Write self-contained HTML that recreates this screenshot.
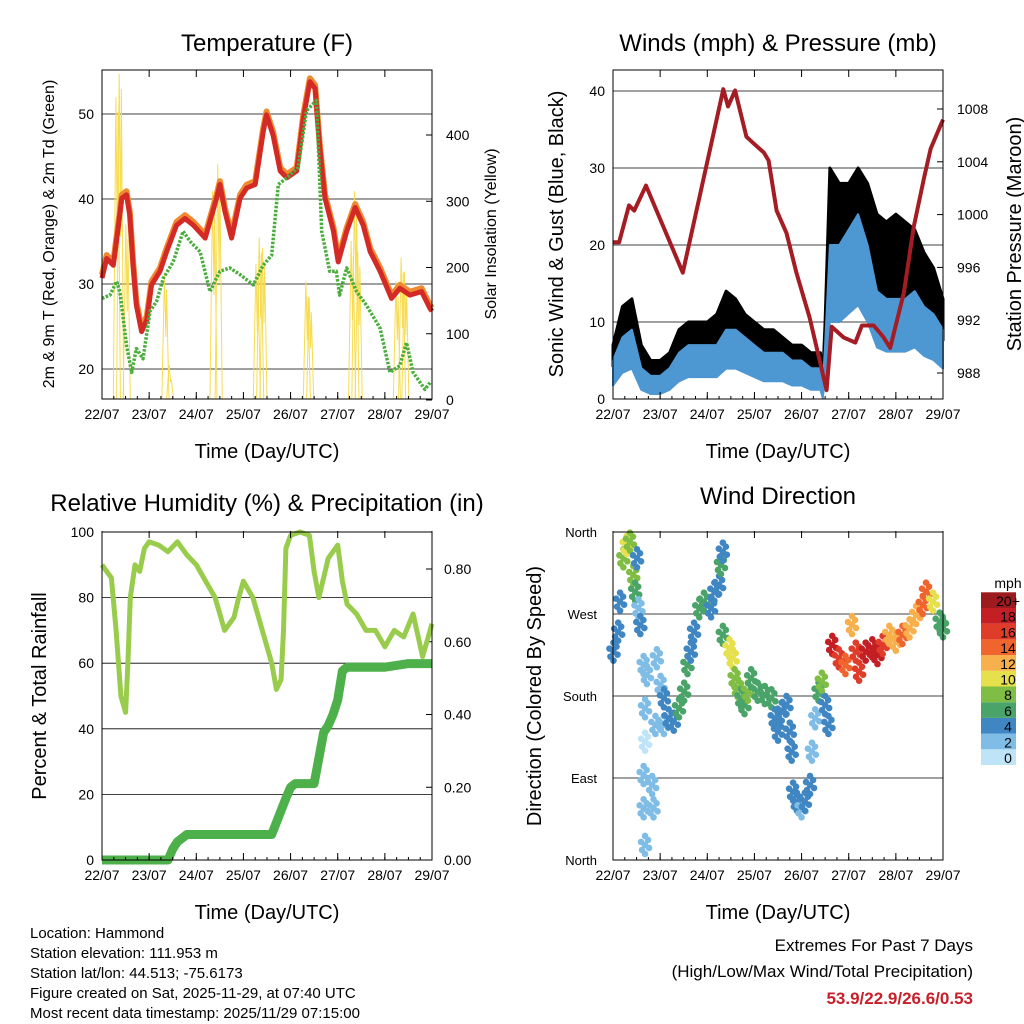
<!DOCTYPE html>
<html><head><meta charset="utf-8">
<style>
body{margin:0;background:#fff;}
svg{display:block;font-family:"Liberation Sans",sans-serif;}
</style></head>
<body>
<svg id="c" width="1024" height="1024" viewBox="0 0 1024 1024"></svg>
<script>
// ---- data ----
const dayLabels=["22/07","23/07","24/07","25/07","26/07","27/07","28/07","29/07"];
const tDays=[0,0.1,0.24,0.35,0.42,0.52,0.59,0.66,0.73,0.84,0.95,1.05,1.23,1.37,1.58,1.76,1.94,2.19,2.43,2.5,2.61,2.75,2.93,3.07,3.25,3.42,3.49,3.63,3.78,3.92,4.13,4.27,4.41,4.52,4.62,4.73,4.91,5.01,5.19,5.37,5.54,5.69,5.9,6.14,6.32,6.53,6.78,6.96,7.0];
const tempF=[30.7,33,32.2,36.9,40.1,40.5,38.1,32.2,27.5,24.4,25.8,29.9,31.5,33.8,36.9,37.7,36.9,35.4,40.1,41.7,38.5,35.4,40.1,41.3,41.7,47.9,49.9,47.5,43.3,42.5,43.3,49.5,53.8,53,46,40.1,36.2,32.6,36.2,39,36.9,33.8,31.5,28.3,29.5,28.7,29.1,27.1,26.8];
const tdDays=[0,0.17,0.31,0.38,0.52,0.63,0.73,0.87,1.02,1.16,1.3,1.51,1.72,1.87,2.08,2.29,2.5,2.71,2.93,3.21,3.42,3.6,3.74,3.92,4.16,4.34,4.55,4.66,4.83,4.97,5.04,5.19,5.4,5.61,5.9,6.11,6.32,6.46,6.6,6.85,6.96];
const dewF=[28.3,28.7,30.3,29.1,22.8,19.6,22.4,21.2,26.8,28,30.7,32.6,36.2,35,33.8,29.1,31.5,31.9,31.1,29.9,32.2,33.4,41.7,42.5,43.7,50.4,51.6,36.2,31.5,31.5,28.7,31.9,29.1,27.5,24.8,19.6,20.4,23.1,19.6,17.6,18.4];
const solarDays=[0.31,0.38,0.52,1.34,1.44,2.36,2.47,3.28,3.35,3.42,4.34,4.41,5.3,5.37,5.44,6.25,6.36,6.43];
const solarVals=[457,492,265,189,53,315,356,205,245,230,179,155,240,315,224,179,215,194];
const wDays=[0,0.2,0.4,0.6,0.8,1.0,1.2,1.4,1.6,1.8,2.0,2.2,2.4,2.6,2.8,3.0,3.2,3.4,3.6,3.8,4.0,4.2,4.4,4.45,4.5,4.6,4.8,5.0,5.2,5.4,5.6,5.8,6.0,6.2,6.4,6.6,6.8,7.0];
const windMean=[5,8,9,4,3,3,4,6,7,7,7,7,9,9,8,7,6,6,6,5,5,4,4,2,7,20,20,22,24,20,14,13,13,13,14,12,11,9];
const windGust=[7,12,13,7,5,5,6,9,10,10,10,11,14,13,11,10,9,9,8,7,7,6,6,3,10,30,28,28,30,28,24,23,24,23,22,19,17,13];
const pDays=[0,0.13,0.34,0.45,0.7,1.48,2.34,2.44,2.59,2.83,2.98,3.2,3.3,3.47,3.68,3.89,4.17,4.38,4.53,4.64,4.89,5.14,5.28,5.53,5.74,5.88,6.17,6.38,6.6,6.74,7.0];
const pressure=[997.9,997.9,1000.7,1000.3,1002.2,995.6,1009.5,1008.2,1009.4,1005.9,1005.4,1004.7,1004.1,1000.3,998.6,995.6,992.2,989,986.7,991.5,990.7,990.3,991.6,991.6,990.7,989.9,994.1,999.1,1002.8,1005,1007.2];
const rhDays=[0,0.1,0.2,0.3,0.4,0.5,0.55,0.6,0.7,0.8,0.9,1.0,1.2,1.4,1.6,1.8,2.0,2.2,2.4,2.6,2.8,2.9,3.0,3.2,3.4,3.6,3.7,3.8,3.85,3.9,4.0,4.2,4.4,4.5,4.6,4.8,5.0,5.1,5.2,5.4,5.6,5.8,6.0,6.2,6.4,6.6,6.8,7.0];
const rh=[90,88,86,70,50,45,60,80,90,88,95,97,96,94,97,93,90,85,80,70,74,80,85,80,70,60,52,55,70,95,99,100,99,88,80,92,96,85,78,75,70,70,65,70,68,75,62,72];
const prDays=[0,1.4,1.5,1.6,1.8,3.6,3.75,3.9,4.0,4.1,4.5,4.6,4.7,4.8,4.9,5.0,5.1,5.2,6.0,6.5,7.0];
const precip=[0,0,0.03,0.05,0.07,0.07,0.12,0.17,0.2,0.21,0.21,0.28,0.35,0.37,0.4,0.44,0.52,0.53,0.53,0.54,0.54];
const dDays=[0.01,0.11,0.15,0.22,0.29,0.36,0.43,0.51,0.47,0.54,0.58,0.65,0.72,0.68,0.68,0.65,0.65,0.68,0.83,0.86,0.9,0.93,1.01,1.08,1.08,1.18,1.29,1.4,1.51,1.58,1.65,1.72,1.83,1.93,2.08,2.15,2.25,2.29,2.33,2.33,2.47,2.54,2.58,2.65,2.72,2.79,2.86,2.93,3.07,3.22,3.36,3.43,3.5,3.58,3.68,3.75,3.79,3.82,3.9,4.0,4.07,4.18,4.22,4.29,4.36,4.43,4.5,4.57,4.65,4.79,4.93,5.07,5.15,5.22,5.36,5.5,5.61,5.72,5.86,6.0,6.14,6.29,6.43,6.57,6.64,6.79,6.93,7.0];
const dirDeg=[228.7,250.6,283.5,331.1,345.7,349.4,312.8,331.1,294.5,276.2,257.9,214,203,166.5,129.9,93.3,56.7,16.5,82.3,56.7,148.2,221.4,192.1,177.5,148.2,155.5,151.8,166.5,184.7,214,228.7,250.6,276.2,283.5,276.2,294.5,301.8,323.8,338.4,247,232.3,221.4,199.4,188.4,177.5,170.1,184.7,199.4,184.7,181.1,177.5,155.5,140.9,162.8,170.1,140.9,118.9,75,64,56.7,64,82.3,118.9,155.5,184.7,195.7,170.1,148.2,236,221.4,214,257.9,228.7,206.7,228.7,232.3,225,236,247,239.6,247,254.3,268.9,279.9,294.5,283.5,261.6,254.3];
const dirSpd=[4,4,4,8,10,8,8,4,6,2,4,2,2,1,0,1,2,1,2,2,1,2,2,4,2,4,4,6,6,6,4,4,6,6,4,4,4,5,4,6,10,10,8,8,6,6,8,6,6,6,6,4,4,4,4,4,3,4,3,2,3,4,2,2,6,8,4,4,18,16,14,12,16,16,18,18,18,16,12,12,14,12,12,14,14,10,6,6];
const cbLabels=["0","2","4","6","8","10","12","14","16","18","20+"];
const cbColors=["#bfe4f8","#80bde6","#3f86c2","#4aa46a","#7fbd44","#e5e04c","#f8b04c","#f0652e","#e03c2a","#c31f25","#9b1b1e"];

// ---- helpers ----
const svg=document.getElementById('c');
const NS="http://www.w3.org/2000/svg";
function mk(tag,attrs,parent){const e=document.createElementNS(NS,tag);for(const k in attrs)e.setAttribute(k,attrs[k]);(parent||svg).appendChild(e);return e;}
function txt(x,y,s,size,anchor,extra){const t=mk('text',Object.assign({x:x,y:y,'font-size':size,'text-anchor':anchor||'middle',fill:'#000'},extra||{}));t.textContent=s;return t;}
function xS(x0,x1){return d=>x0+d*(x1-x0)/7;}
function lin(v0,p0,v1,p1){return v=>p0+(v-v0)*(p1-p0)/(v1-v0);}
function pathOf(xs,ys,fx,fy){return xs.map((d,i)=>(i?'L':'M')+fx(d).toFixed(1)+','+fy(ys[i]).toFixed(1)).join('');}
function frame(name){
  const g=mk('g',{});
  
  
  return g;
}
function xAxis(g,x0,x1,yb){
  const fx=xS(x0,x1);
  dayLabels.forEach((l,i)=>{
    mk('line',{x1:fx(i),x2:fx(i),y1:yb,y2:yb-7,stroke:'#000'},g);
    mk('line',{x1:fx(i),x2:fx(i),y1:yb-329,y2:yb-322,stroke:'#000'},g);
    const t=txt(fx(i),yb+20,l,14,'middle');
    
    
  });
  for(let i=0;i<28;i++){const x=x0+i*(x1-x0)/28;mk('line',{x1:x,x2:x,y1:yb,y2:yb-3,stroke:'#000'},g);}
  const t=txt((x0+x1)/2,yb+59,'Time (Day/UTC)',20,'middle');
  
  
}
function box(g,x0,y0,x1,y1){mk('rect',{x:x0,y:y0,width:x1-x0,height:y1-y0,fill:'none',stroke:'#000','stroke-width':1},g);}

// ===== Panel 1 Temperature =====
(function(){
  const x0=102,x1=432,y0=70,y1=399;
  const g=frame('temperature-panel');
  const fx=xS(x0,x1), fy=lin(20,369,50,114), fs=lin(0,400,400,135);
  [20,30,40,50].forEach(v=>{mk('line',{x1:x0,x2:x1,y1:fy(v),y2:fy(v),stroke:'#000','stroke-width':0.8},g);
    const t=txt(x0-8,fy(v)+5,String(v),14,'end');});
  [0,100,200,300,400].forEach(v=>{mk('line',{x1:x1,x2:x1-6,y1:fs(v),y2:fs(v),stroke:'#000'},g);
    const t=txt(x1+14,fs(v)+5,String(v),14,'start');});
  const clip=mk('clipPath',{id:'clip1'});mk('rect',{x:x0,y:y0,width:x1-x0,height:y1-y0},clip);
  const sg=mk('g',{'clip-path':'url(#clip1)'},g);
  solarDays.forEach((d,i)=>{
    const top=fs(solarVals[i]);
    const p=mk('path',{d:`M${fx(d-0.07)},${y1}L${fx(d-0.015)},${top}L${fx(d+0.015)},${(top+y1)/2}L${fx(d+0.03)},${top+15}L${fx(d+0.08)},${y1}`,fill:'none',stroke:'#f7dc50','stroke-width':1},sg);
    
    
  });
  const or=mk('path',{d:pathOf(tDays,tempF.map(v=>v+0.4),fx,fy),fill:'none',stroke:'#f08a30','stroke-width':6,'stroke-linejoin':'round'},g);
  
  const rd=mk('path',{d:pathOf(tDays,tempF,fx,fy),fill:'none',stroke:'#d42a26','stroke-width':5,'stroke-linejoin':'round'},g);
  
  const gr=mk('path',{d:pathOf(tdDays,dewF,fx,fy),fill:'none',stroke:'#4aae3c','stroke-width':3.5,'stroke-dasharray':'2.5 1.5','stroke-linejoin':'round'},g);
  
  box(g,x0,y0,x1,y1);
  xAxis(g,x0,x1,y1);
  const t=txt(267,51,'Temperature (F)',24,'middle');
  const a=txt(0,0,'2m & 9m T (Red, Orange) & 2m Td (Green)',16,'middle',{transform:'translate(54,234) rotate(-90)'});
  const b=txt(0,0,'Solar Insolation (Yellow)',16,'middle',{transform:'translate(496,234) rotate(-90)'});
})();

// ===== Panel 2 Winds =====
(function(){
  const x0=613,x1=943,y0=70,y1=399;
  const g=frame('winds-panel');
  const fx=xS(x0,x1), fy=lin(0,399,40,91), fp=lin(988,373,1008,109);
  [10,20,30,40].forEach(v=>mk('line',{x1:x0,x2:x1,y1:fy(v),y2:fy(v),stroke:'#000','stroke-width':0.8},g));
  [0,10,20,30,40].forEach(v=>{const t=txt(x0-8,fy(v)+5,String(v),14,'end');});
  [988,992,996,1000,1004,1008].forEach(v=>{mk('line',{x1:x1,x2:x1-6,y1:fp(v),y2:fp(v),stroke:'#000'},g);
    const t=txt(x1+14,fp(v)+5,String(v),14,'start');});
  const gd=pathOf(wDays,windGust,fx,fy)+wDays.slice().reverse().map((d,i)=>'L'+fx(d).toFixed(1)+','+fy(windMean[wDays.length-1-i]*0.85).toFixed(1)).join('')+'Z';
  const gb=mk('path',{d:gd,fill:'#000',stroke:'#000','stroke-width':3,'stroke-linejoin':'round'},g);
  
  const md=pathOf(wDays,windMean,fx,fy)+wDays.slice().reverse().map((d,i)=>'L'+fx(d).toFixed(1)+','+fy(Math.max(0,windMean[wDays.length-1-i]*0.55-1)).toFixed(1)).join('')+'Z';
  const mb=mk('path',{d:md,fill:'#4d97d3',stroke:'#4d97d3','stroke-width':2,'stroke-linejoin':'round'},g);
  
  const pr=mk('path',{d:pathOf(pDays,pressure,fx,fp),fill:'none',stroke:'#a51d24','stroke-width':4,'stroke-linejoin':'round'},g);
  
  box(g,x0,y0,x1,y1);
  xAxis(g,x0,x1,y1);
  const t=txt(778,51,'Winds (mph) & Pressure (mb)',24,'middle');
  const a=txt(0,0,'Sonic Wind & Gust (Blue, Black)',20,'middle',{transform:'translate(563,234) rotate(-90)'});
  const b=txt(0,0,'Station Pressure (Maroon)',20,'middle',{transform:'translate(1021,234) rotate(-90)'});
})();

// ===== Panel 3 RH =====
(function(){
  const x0=102,x1=432,y0=532,y1=860;
  const g=frame('humidity-panel');
  const fx=xS(x0,x1), fy=lin(0,860,100,532), fr=lin(0,860,0.8,569);
  [20,40,60,80].forEach(v=>mk('line',{x1:x0,x2:x1,y1:fy(v),y2:fy(v),stroke:'#000','stroke-width':0.8},g));
  [0,20,40,60,80,100].forEach(v=>{const t=txt(x0-8,fy(v)+5,String(v),14,'end');});
  [0,0.2,0.4,0.6,0.8].forEach(v=>{mk('line',{x1:x1,x2:x1-6,y1:fr(v),y2:fr(v),stroke:'#000'},g);
    const t=txt(x1+12,fr(v)+5,v.toFixed(2),14,'start');});
  const r=mk('path',{d:pathOf(rhDays,rh,fx,fy),fill:'none',stroke:'#99cc4c','stroke-width':5,'stroke-linejoin':'round'},g);
  
  const p=mk('path',{d:pathOf(prDays,precip,fx,fr),fill:'none',stroke:'#4db04a','stroke-width':9,'stroke-linejoin':'round'},g);
  
  box(g,x0,y0,x1,y1);
  xAxis(g,x0,x1,y1);
  const t=txt(267,511,'Relative Humidity (%) & Precipitation (in)',24,'middle');
  const a=txt(0,0,'Percent & Total Rainfall',20,'middle',{transform:'translate(46,696) rotate(-90)'});
})();

// ===== Panel 4 Direction =====
(function(){
  const x0=613,x1=943,y0=532,y1=860;
  const g=frame('direction-panel');
  const fx=xS(x0,x1), fy=lin(0,860,360,532);
  [90,180,270].forEach(v=>mk('line',{x1:x0,x2:x1,y1:fy(v),y2:fy(v),stroke:'#000','stroke-width':0.8},g));
  const names=["North","East","South","West","North"];
  names.forEach((n,i)=>{const t=txt(x0-16,fy(i*90)+5,n,13,'end');});
  const offs=[[0,0],[-3,5],[3,-5],[0,-9],[0,9],[4,3],[-4,-3]];
  dDays.forEach((d,i)=>{
    const ci=Math.min(10,Math.round(dirSpd[i]/2));
    offs.forEach(o=>{
      const c=mk('circle',{cx:fx(d)+o[0],cy:Math.max(y0,Math.min(y1,fy(dirDeg[i])+o[1])),r:3.3,fill:cbColors[ci]},g);
      
      
    });
  });
  box(g,x0,y0,x1,y1);
  xAxis(g,x0,x1,y1);
  const t=txt(778,504,'Wind Direction',24,'middle');
  const a=txt(0,0,'Direction (Colored By Speed)',20,'middle',{transform:'translate(541,696) rotate(-90)'});
  const cb=mk('g',{});
  
  const h=15.7;
  cbColors.forEach((c,i)=>{
    const y=765-(i+1)*h;
    mk('rect',{x:981,y:y,width:35,height:h,fill:c},cb);
    const l=txt(1008,y+h-2,cbLabels[i],14,'middle');
  });
  const u=txt(1008,588,'mph',14,'middle');
})();

// footer
const foot=["Location: Hammond","Station elevation: 111.953 m","Station lat/lon: 44.513; -75.6173","Figure created on Sat, 2025-11-29, at 07:40 UTC","Most recent data timestamp: 2025/11/29 07:15:00"];
foot.forEach((s,i)=>{const t=txt(30,938+i*20,s,15,'start');});
const e1=txt(973,951,'Extremes For Past 7 Days',17,'end');
const e2=txt(973,977,'(High/Low/Max Wind/Total Precipitation)',17,'end');
const e3=txt(973,1004,'53.9/22.9/26.6/0.53',17,'end',{fill:'#c8202a','font-weight':'bold'});
</script>
</body></html>
